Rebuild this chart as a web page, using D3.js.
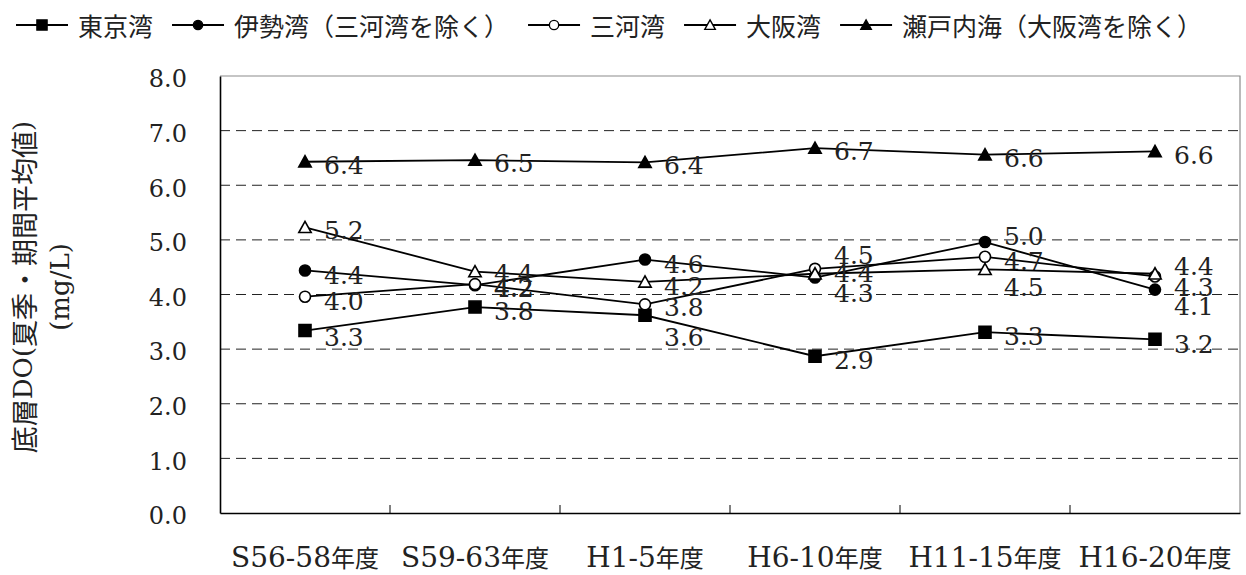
<!DOCTYPE html>
<html>
<head>
<meta charset="utf-8">
<title>底層DO</title>
<script src="https://cdn.jsdelivr.net/npm/d3@7"></script>
<style>
  body { margin: 0; background: #fff; }
  svg { display: block; }
  .latin { font-family: "DejaVu Serif", serif; }
  .cjk { font-family: "Noto Sans CJK JP", sans-serif; }
</style>
</head>
<body>
<script>
// ---- data ----
var categories = ["S56-58年度", "S59-63年度", "H1-5年度", "H6-10年度", "H11-15年度", "H16-20年度"];
var seriesNames = ["東京湾", "伊勢湾（三河湾を除く）", "三河湾", "大阪湾", "瀬戸内海（大阪湾を除く）"];
var tokyo      = [3.34, 3.77, 3.62, 2.87, 3.31, 3.18];
var ise        = [4.44, 4.17, 4.64, 4.31, 4.96, 4.09];
var mikawa     = [3.96, 4.19, 3.82, 4.47, 4.69, 4.33];
var osaka      = [5.23, 4.42, 4.23, 4.38, 4.46, 4.38];
var setonaikai = [6.43, 6.46, 6.42, 6.68, 6.56, 6.62];
var yTicks = [0, 1, 2, 3, 4, 5, 6, 7, 8];
var yTitle = ["底層DO(夏季・期間平均値)", "(mg/L)"];

// label nudges (px, vertical) so the value labels sit where the original put them
var labelNudge = [
  [6, 4, 22, 4, 4, 5],
  [4, 3, 4, 15, -6, 16.5],
  [4, 3, 3, -14, 4, 10],
  [3, 1, 4, -1, 17.5, -8],
  [3, 3, 3, 3, 3, 3]
];

var series = [
  {name: seriesNames[0], values: tokyo,      shape: "square",   fill: "#000"},
  {name: seriesNames[1], values: ise,        shape: "circle",   fill: "#000"},
  {name: seriesNames[2], values: mikawa,     shape: "circle",   fill: "#fff"},
  {name: seriesNames[3], values: osaka,      shape: "triangle", fill: "#fff"},
  {name: seriesNames[4], values: setonaikai, shape: "triangle", fill: "#000"}
];

var width = 1246, height = 575;
var plot = {left: 220, right: 1240, top: 76, bottom: 513};

var svg = d3.select("body").append("svg")
    .attr("width", width)
    .attr("height", height);

var x = d3.scaleBand().domain(categories).range([plot.left, plot.right]);
var y = d3.scaleLinear().domain([0, 8]).range([plot.bottom, plot.top]);
function cx(i) { return x(categories[i]) + x.bandwidth() / 2; }

// split a string into latin / CJK runs, each with its own font
function mixedText(sel, str, latinSize, cjkSize) {
  var runs = str.match(/[\u3000-\u9fff\uff00-\uffef]+|[^\u3000-\u9fff\uff00-\uffef]+/g);
  runs.forEach(function (r) {
    var isCjk = /[\u3000-\u9fff\uff00-\uffef]/.test(r);
    sel.append("tspan")
        .attr("class", isCjk ? "cjk" : "latin")
        .style("font-size", (isCjk ? cjkSize : latinSize) + "px")
        .text(r);
  });
}

function marker(shape) {
  if (shape === "square") return "M-6,-6H6V6H-6Z";
  if (shape === "circle") return d3.symbol().type(d3.symbolCircle).size(95)();
  return "M0,-6L6.2,5.2L-6.2,5.2Z";
}

// gridlines
svg.append("g").selectAll("line")
    .data(yTicks.filter(function (t) { return t > 0 && t < 8; }))
    .enter().append("line")
    .attr("x1", plot.left).attr("x2", plot.right)
    .attr("y1", function (d) { return y(d); })
    .attr("y2", function (d) { return y(d); })
    .attr("stroke", "#222")
    .attr("stroke-width", 1)
    .attr("stroke-dasharray", "10,6");

// frame: top/right grey, left/bottom black
svg.append("path")
    .attr("d", "M" + plot.left + "," + plot.top + "H" + plot.right + "V" + plot.bottom)
    .attr("fill", "none").attr("stroke", "#8c8c8c").attr("stroke-width", 1.2);

// y axis
var yAxis = svg.append("g")
    .attr("transform", "translate(" + plot.left + ",0)")
    .call(d3.axisLeft(y).tickValues(yTicks).tickSize(0).tickPadding(33).tickFormat(d3.format(".1f")));
yAxis.select(".domain").attr("stroke", "#000").attr("stroke-width", 1.6);
yAxis.selectAll("text")
    .attr("class", "latin")
    .style("font-size", "24px")
    .attr("fill", "#222")
    .attr("dy", "0.45em");

// x axis: ticks at category boundaries pointing up
var xAxis = svg.append("g")
    .attr("transform", "translate(0," + plot.bottom + ")")
    .call(d3.axisBottom(x).tickSize(0).tickFormat(""));
xAxis.select(".domain").attr("stroke", "#000").attr("stroke-width", 1.6);
xAxis.selectAll(".tick").remove();
xAxis.selectAll("line.sep")
    .data(categories.slice(1))
    .enter().append("line")
    .attr("class", "sep")
    .attr("x1", function (d) { return x(d); })
    .attr("x2", function (d) { return x(d); })
    .attr("y1", 0).attr("y2", -8)
    .attr("stroke", "#000").attr("stroke-width", 1);

svg.append("g").selectAll("text")
    .data(categories)
    .enter().append("text")
    .attr("x", function (d, i) { return cx(i); })
    .attr("y", 567)
    .attr("text-anchor", "middle")
    .attr("fill", "#222")
    .each(function (d) { mixedText(d3.select(this), d, 28, 24); });

// y title
yTitle.forEach(function (t, i) {
  var tx = svg.append("text")
      .attr("transform", "translate(" + (i === 0 ? 23 : 60) + ",287) rotate(-90)")
      .attr("text-anchor", "middle")
      .attr("dominant-baseline", "central")
      .attr("fill", "#222");
  mixedText(tx, t, 26, 27);
});

// series
var line = d3.line()
    .x(function (d, i) { return cx(i); })
    .y(function (d) { return y(d); });

var gSeries = svg.append("g").selectAll("g")
    .data(series)
    .enter().append("g");

gSeries.append("path")
    .attr("d", function (d) { return line(d.values); })
    .attr("fill", "none")
    .attr("stroke", "#000")
    .attr("stroke-width", 1.8);

gSeries.each(function (s) {
  d3.select(this).selectAll("path.mk")
      .data(s.values)
      .enter().append("path")
      .attr("class", "mk")
      .attr("d", marker(s.shape))
      .attr("transform", function (d, i) { return "translate(" + cx(i) + "," + y(d) + ")"; })
      .attr("fill", s.fill)
      .attr("stroke", "#000")
      .attr("stroke-width", 1.6);
});

gSeries.each(function (s, si) {
  d3.select(this).selectAll("text")
      .data(s.values)
      .enter().append("text")
      .attr("class", "latin")
      .style("font-size", "25px")
      .attr("fill", "#222")
      .attr("x", function (d, i) { return cx(i) + 19; })
      .attr("y", function (d, i) { return y(d) + labelNudge[si][i]; })
      .attr("dy", "0.365em")
      .text(function (d) { return d3.format(".1f")(d); });
});

// legend
var legend = svg.append("g").attr("transform", "translate(16,25)");
var lx = 0;
series.forEach(function (s) {
  var item = legend.append("g").attr("transform", "translate(" + lx + ",0)");
  item.append("line")
      .attr("x1", 0).attr("x2", 52)
      .attr("stroke", "#000").attr("stroke-width", 1.8);
  item.append("path")
      .attr("d", marker(s.shape))
      .attr("transform", "translate(26,0) scale(0.85)")
      .attr("fill", s.fill)
      .attr("stroke", "#000")
      .attr("stroke-width", 1.6);
  var t = item.append("text")
      .attr("class", "cjk")
      .attr("x", 62)
      .attr("dominant-baseline", "central")
      .style("font-size", "25px")
      .attr("fill", "#222")
      .text(s.name);
  lx += 62 + t.node().getComputedTextLength() + 19;
});
</script>
</body>
</html>
